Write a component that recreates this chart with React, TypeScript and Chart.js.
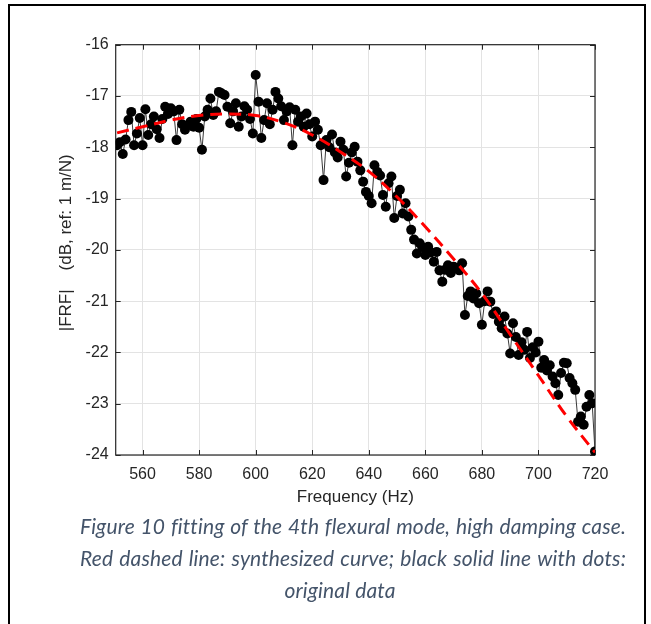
import React, { useEffect, useRef } from "react";
import { Chart, registerables } from "chart.js";

Chart.register(...registerables);

// Measured FRF magnitude (dB), one value per Hz from 551 Hz to 720 Hz
const freqStart = 551;
const frfValues = [
  -17.96, -17.9, -18.13, -17.85, -17.47, -17.31, -17.96, -17.73, -17.43, -17.96,
  -17.26, -17.76, -17.55, -17.4, -17.65, -17.82, -17.45, -17.21, -17.35, -17.24,
  -17.3, -17.86, -17.27, -17.55, -17.66, -17.57, -17.5, -17.6, -17.45, -17.62,
  -18.05, -17.4, -17.27, -17.05, -17.37, -17.3, -16.92, -16.95, -16.98, -17.21,
  -17.53, -17.3, -17.14, -17.6, -17.4, -17.2, -17.27, -17.45, -17.73, -16.59,
  -17.11, -17.82, -17.47, -17.14, -17.55, -17.27, -16.92, -17.05, -17.2, -17.47,
  -17.3, -17.22, -17.96, -17.27, -17.5, -17.4, -17.6, -17.34, -17.55, -17.79,
  -17.5, -17.66, -17.96, -18.64, -17.86, -18.0, -17.75, -18.1, -18.2, -17.89,
  -18.05, -18.57, -18.3, -18.1, -17.99, -18.28, -18.45, -18.67, -18.87, -18.95,
  -19.09, -18.35, -18.48, -18.55, -18.93, -19.16, -18.7, -18.57, -19.38, -18.95,
  -18.83, -19.29, -19.09, -19.35, -19.61, -19.8, -20.07, -19.87, -19.95, -20.1,
  -19.94, -20.05, -20.23, -20.04, -20.4, -20.62, -20.39, -20.3, -20.45, -20.33,
  -20.35, -20.4, -20.26, -21.27, -20.9, -20.81, -20.95, -20.85, -21.04, -21.46,
  -21.0, -20.81, -21.01, -21.25, -21.2, -21.4, -21.53, -21.3, -21.63, -22.02,
  -21.43, -21.7, -22.05, -21.8, -21.95, -21.6, -22.11, -21.9, -22.0, -21.79,
  -22.3, -22.15, -22.35, -22.25, -22.47, -22.6, -22.83, -22.4, -22.2, -22.21,
  -22.5, -22.6, -22.73, -23.35, -23.25, -23.41, -23.06, -22.83, -22.99, -23.93,
];

// Synthesized (fitted) curve
const fitFreqs = [551, 560, 570, 580, 590, 600, 610, 620, 630, 640, 650, 660, 670, 680, 690, 700, 710, 720];
const fitValues = [-17.72, -17.6, -17.47, -17.38, -17.35, -17.38, -17.52, -17.76, -18.09, -18.47, -18.97, -19.55, -20.18, -20.85, -21.65, -22.45, -23.25, -23.95];

const xTickValues = [560, 580, 600, 620, 640, 660, 680, 700, 720];
const yTickValues = [-16, -17, -18, -19, -20, -21, -22, -23, -24];

const xMin = 550.5;
const xMax = 720;
const yMin = -24;
const yMax = -16;

const captionLines = [
  "Figure 10 fitting of the 4th flexural mode, high damping case.",
  "Red dashed line: synthesized curve; black solid line with dots:",
  "original data",
];

const AXIS_COLOR = "#262626";

const boxPlugin = {
  id: "matlabBox",
  beforeDatasetsDraw(chart: any) {
    const { ctx, chartArea } = chart;
    const { left, right, top, bottom } = chartArea;
    const xs = chart.scales.x;
    const ys = chart.scales.y;
    const tl = 5;
    ctx.save();
    ctx.strokeStyle = AXIS_COLOR;
    ctx.lineWidth = 1;
    ctx.beginPath();
    for (const v of xTickValues) {
      const px = Math.round(xs.getPixelForValue(v)) + 0.5;
      ctx.moveTo(px, bottom);
      ctx.lineTo(px, bottom - tl);
      ctx.moveTo(px, top);
      ctx.lineTo(px, top + tl);
    }
    for (const v of yTickValues) {
      const py = Math.round(ys.getPixelForValue(v)) + 0.5;
      ctx.moveTo(left, py);
      ctx.lineTo(left + tl, py);
      ctx.moveTo(right, py);
      ctx.lineTo(right - tl, py);
    }
    ctx.stroke();
    ctx.lineWidth = 1.2;
    ctx.strokeRect(left, top, right - left, bottom - top);
    ctx.restore();
  },
};

export default function App() {
  const canvasRef = useRef<HTMLCanvasElement | null>(null);

  useEffect(() => {
    if (!canvasRef.current) return;
    const frfPoints = frfValues.map((v, i) => ({ x: freqStart + i, y: v }));
    const fitPoints = fitFreqs.map((f, i) => ({ x: f, y: fitValues[i] }));

    const chart = new Chart(canvasRef.current, {
      type: "line",
      data: {
        datasets: [
          {
            label: "synthesized",
            data: fitPoints,
            borderColor: "#ff0000",
            borderWidth: 3,
            borderDash: [12, 7],
            pointRadius: 0,
            tension: 0.35,
            fill: false,
            order: 0,
          },
          {
            label: "original",
            data: frfPoints,
            borderColor: "#3a3a3a",
            borderWidth: 1,
            pointRadius: 5,
            pointBackgroundColor: "#000000",
            pointBorderColor: "#000000",
            pointBorderWidth: 0,
            pointStyle: "circle",
            tension: 0,
            fill: false,
            order: 1,
          },
        ],
      },
      options: {
        responsive: false,
        animation: false,
        events: [],
        layout: { padding: { left: 0, right: 56, top: 44.7, bottom: 0 } },
        plugins: {
          legend: { display: false },
          tooltip: { enabled: false },
        },
        scales: {
          x: {
            type: "linear",
            min: xMin,
            max: xMax,
            afterBuildTicks: (scale: any) => {
              scale.ticks = xTickValues.map((v) => ({ value: v }));
            },
            afterFit: (scale: any) => {
              scale.height = 65;
            },
            grid: { color: "#e3e3e3", lineWidth: 1, drawTicks: false },
            border: { display: false },
            ticks: {
              color: AXIS_COLOR,
              padding: 10,
              maxRotation: 0,
              font: { family: "'Liberation Sans', Arial, sans-serif", size: 16 },
            },
            title: {
              display: true,
              text: "Frequency (Hz)",
              color: AXIS_COLOR,
              padding: { top: 0, bottom: 12 },
              font: { family: "'Liberation Sans', Arial, sans-serif", size: 17 },
            },
          },
          y: {
            type: "linear",
            min: yMin,
            max: yMax,
            afterBuildTicks: (scale: any) => {
              scale.ticks = yTickValues.map((v) => ({ value: v }));
            },
            afterFit: (scale: any) => {
              scale.width = 115.7;
            },
            grid: { color: "#e3e3e3", lineWidth: 1, drawTicks: false },
            border: { display: false },
            ticks: {
              color: AXIS_COLOR,
              padding: 7,
              font: { family: "'Liberation Sans', Arial, sans-serif", size: 16 },
            },
            title: {
              display: true,
              text: "   |FRF|    (dB, ref: 1 m/N)",
              color: AXIS_COLOR,
              padding: { top: 56, bottom: 0 },
              font: { family: "'Liberation Sans', Arial, sans-serif", size: 17 },
            },
          },
        },
      },
      plugins: [boxPlugin],
    });
    return () => chart.destroy();
  }, []);

  const captionStyle: React.CSSProperties = {
    position: "absolute",
    fontFamily: "Lato, 'Open Sans', sans-serif",
    fontStyle: "italic",
    fontSize: 21,
    letterSpacing: "0.15px",
    lineHeight: "30px",
    color: "#44546a",
    whiteSpace: "nowrap",
  };

  return (
    <div style={{ position: "absolute", left: 0, top: 0, width: 651, height: 624, overflow: "hidden", background: "#fff" }}>
      <div
        style={{
          position: "absolute",
          left: 8,
          top: 4,
          width: 634,
          height: 660,
          border: "2px solid #000",
        }}
      />
      <canvas ref={canvasRef} width={651} height={520} style={{ position: "absolute", left: 0, top: 0 }} />
      <div style={{ ...captionStyle, left: 80, width: 546, top: 511, textAlign: "justify", textAlignLast: "justify" }}>
        {captionLines[0]}
      </div>
      <div style={{ ...captionStyle, left: 80, width: 546, top: 543, textAlign: "justify", textAlignLast: "justify" }}>
        {captionLines[1]}
      </div>
      <div style={{ ...captionStyle, left: 190, width: 300, top: 575, textAlign: "center" }}>
        {captionLines[2]}
      </div>
    </div>
  );
}
